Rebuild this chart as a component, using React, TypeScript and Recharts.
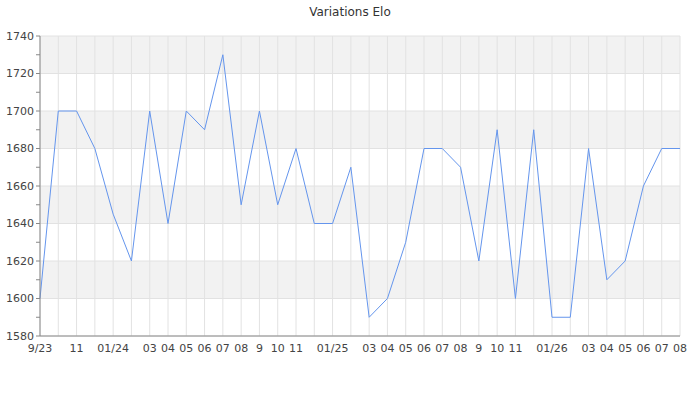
import { LineChart, Line, XAxis, YAxis, CartesianGrid } from "recharts"

const months = [
    "9/23", "10/23", "11/23", "12/23", "01/24", "02/24", "03/24", "04/24", "05/24", "06/24", "07/24", "08/24",
    "09/24", "10/24", "11/24", "12/24", "01/25", "02/25", "03/25", "04/25", "05/25", "06/25", "07/25", "08/25",
    "09/25", "10/25", "11/25", "12/25", "01/26", "02/26", "03/26", "04/26", "05/26", "06/26", "07/26", "08/26",
]

const monthLabels = [
    "9/23", "", "11", "", "01/24", "", "03", "04", "05", "06", "07", "08",
    "9", "10", "11", "", "01/25", "", "03", "04", "05", "06", "07", "08",
    "9", "10", "11", "", "01/26", "", "03", "04", "05", "06", "07", "08",
]

const elo = [
    1600, 1700, 1700, 1680, 1645, 1620, 1700, 1640, 1700, 1690, 1730, 1650,
    1700, 1650, 1680, 1640, 1640, 1670, 1590, 1600, 1630, 1680, 1680, 1670,
    1620, 1690, 1600, 1690, 1590, 1590, 1680, 1610, 1620, 1660, 1680, 1680,
]

const yTicks = [1580, 1590, 1600, 1610, 1620, 1630, 1640, 1650, 1660, 1670, 1680, 1690, 1700, 1710, 1720, 1730, 1740]
const yMajor = [1580, 1600, 1620, 1640, 1660, 1680, 1700, 1720, 1740]

const data = months.map((m, i) => ({ month: m, elo: elo[i] }))

function YTick(props: any) {
    const { x, y, payload } = props
    const major = payload.value % 20 === 0
    return (
        <g>
            <line x1={x + 2} x2={x + 6} y1={y} y2={y} stroke="#888" />
            {major && (
                <text x={x} y={y} dy="0.35em" textAnchor="end" fill="#444" fontSize={11} fontFamily="DejaVu Sans">
                    {payload.value}
                </text>
            )}
        </g>
    )
}

export default function App() {
    return (
        <div style={{ position: "relative", width: 700, height: 400, background: "#fff" }}>
            <style>{"body { margin: 0; }"}</style>
            <LineChart width={700} height={400} data={data} margin={{ top: 36, right: 20, bottom: 34, left: 0 }}>
                <CartesianGrid
                    stroke="#e2e2e2"
                    horizontalValues={yMajor}
                    horizontalFill={["#f2f2f2", "#ffffff"]}
                    fillOpacity={1}
                />
                <XAxis
                    dataKey="month"
                    interval={0}
                    tickFormatter={(_v: any, i: number) => monthLabels[i]}
                    tickLine={false}
                    axisLine={{ stroke: "#888" }}
                    tick={{ fill: "#444", fontSize: 11, fontFamily: "DejaVu Sans" }}
                    height={30}
                />
                <YAxis
                    type="number"
                    domain={[1580, 1740]}
                    ticks={yTicks}
                    interval={0}
                    width={40}
                    tickLine={false}
                    axisLine={{ stroke: "#888" }}
                    tick={<YTick />}
                    tickMargin={0}
                    tickSize={6}
                />
                <Line
                    type="linear"
                    dataKey="elo"
                    stroke="#6495ed"
                    strokeWidth={1}
                    dot={false}
                    activeDot={false}
                    isAnimationActive={false}
                />
            </LineChart>
            <div
                style={{
                    position: "absolute",
                    zIndex: 2,
                    top: 4,
                    left: 0,
                    width: 700,
                    textAlign: "center",
                    fontFamily: "DejaVu Sans",
                    fontSize: 12,
                    lineHeight: "16px",
                    color: "#333",
                }}
            >
                Variations Elo
            </div>
        </div>
    )
}
